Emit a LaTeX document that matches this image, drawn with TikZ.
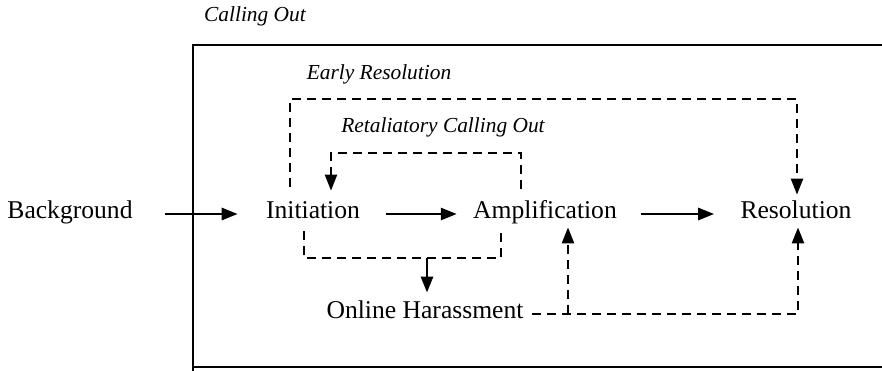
\documentclass[tikz,border=0pt]{standalone}
\usepackage{fontspec}
\setmainfont{Liberation Serif}
\usepackage{tikz}
\usetikzlibrary{arrows.meta, positioning, calc}

\begin{document}
\begin{tikzpicture}[x=0.5pt, y=-0.5pt,
    stage/.style={inner xsep=0pt, inner ysep=4pt, text height=0.68em, text depth=0.22em, font=\fontsize{12.8}{15}\selectfont},
    phase/.style={inner sep=0pt, font=\fontsize{10.7}{13}\selectfont\itshape},
    frame/.style={line width=1.4pt},
    arrow/.style={-{Triangle[length=8pt, width=6pt]}, line width=1.4pt},
    dashline/.style={line width=1.2pt, dash pattern=on 4.5pt off 3pt},
    dasharrow/.style={dashline, -{Triangle[length=8pt, width=6pt]}}
]
    \useasboundingbox (0,0) rectangle (882,370);
    \clip (0,0) rectangle (882,370);

    % Outer frame
    \node[phase] (callout) at (255,16) {Calling Out};
    \draw[frame] (193,390) -- (193,45) -- (900,45);
    \draw[frame] (193,367) -- (900,367);

    % Stages
    \node[stage] (bg) at (70,214) {Background};
    \node[stage] (init) at (313,214) {Initiation};
    \node[stage] (amp) at (545,214) {Amplification};
    \node[stage] (res) at (796,214) {Resolution};
    \node[stage] (harass) at (425,314) {Online Harassment};

    % Phase labels
    \node[phase] (early) at (379,74) {Early Resolution};
    \node[phase] (retal) at (443,127) {Retaliatory Calling Out};

    % Main flow
    \draw[arrow, shorten <=16pt, shorten >=14pt] (bg) -- (init);
    \draw[arrow, shorten <=13pt, shorten >=8pt] (init) -- (amp);
    \draw[arrow, shorten <=12pt, shorten >=13pt] (amp) -- (res);

    % Early resolution
    \coordinate (erl) at (290,99);
    \coordinate (err) at (797,99);
    \draw[dasharrow, shorten <=5pt, shorten >=1pt] (init.north -| erl) -- (erl) -- (err) -- (res.north -| err);

    % Retaliatory calling out
    \coordinate (rtr) at (521,153);
    \coordinate (rtl) at (331,153);
    \draw[dasharrow, shorten <=4pt, shorten >=3pt] (amp.north -| rtr) -- (rtr) -- (rtl) -- (init.north -| rtl);

    % Online harassment
    \coordinate (hbl) at (304,258);
    \coordinate (hbr) at (501,258);
    \coordinate (hbm) at (427,258);
    \draw[dashline] (init.south -| hbl) -- (hbl) -- (hbr) -- (amp.south -| hbr);
    \draw[arrow, shorten >=2pt] (hbm) -- (harass.north -| hbm);

    \coordinate (hra) at (568,314);
    \coordinate (hrr) at (798,314);
    \draw[dasharrow, shorten <=4pt, shorten >=-2pt] (harass.east) -- (hrr) -- (res.south -| hrr);
    \draw[dasharrow, shorten >=-2pt] (hra) -- (amp.south -| hra);
\end{tikzpicture}
\end{document}
